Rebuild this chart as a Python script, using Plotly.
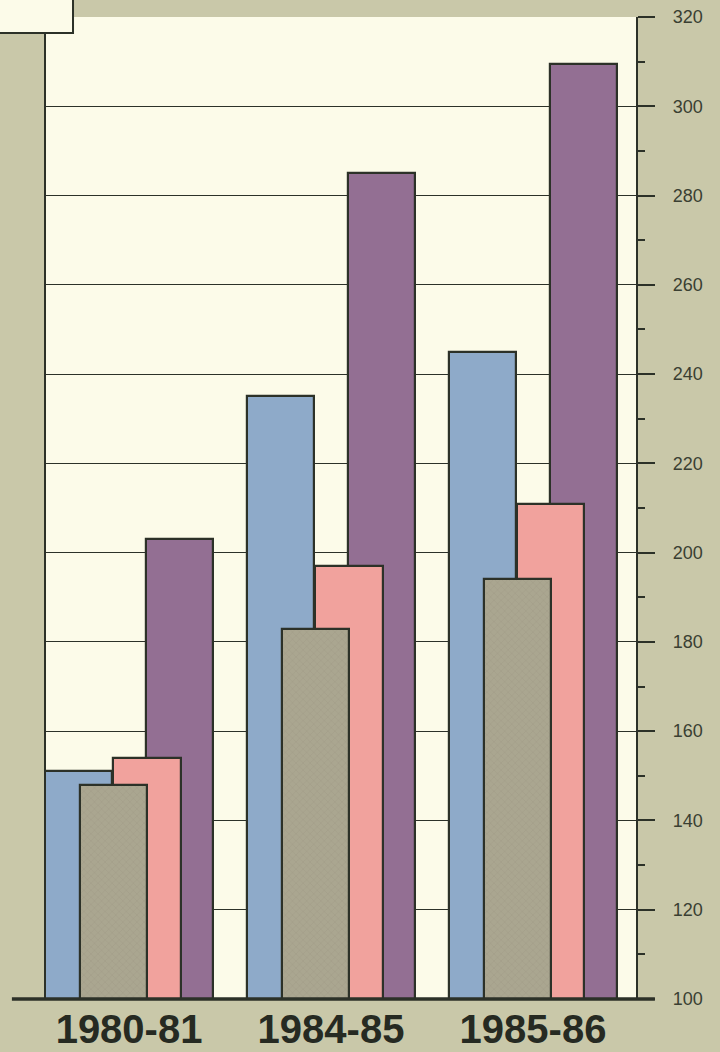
import plotly.graph_objects as go

# ---- data ----
categories = ["1980-81", "1984-85", "1985-86"]
blue_values = [151, 235, 245]
gray_values = [148, 183, 194]
pink_values = [154, 197, 211]
purple_values = [203, 285, 309.5]
y_tick_values = [100, 120, 140, 160, 180, 200, 220, 240, 260, 280, 300, 320]
y_tick_labels = [str(v) for v in y_tick_values]

# ---- styles ----
INK = "#2c3128"
PAPER = "#c9c8a9"
PLOT_BG = "#fcfbe9"
BAR_W = 0.332

# draw order: back to front
series = [
    ("Purple", purple_values, "#936f93", 0.082, None),
    ("Blue", blue_values, "#8eaac9", -0.416, None),
    ("Pink", pink_values, "#f1a29d", -0.077, None),
    ("Gray", gray_values, "#aaa690", -0.243,
     dict(shape="x", size=5, solidity=0.12, fgcolor="#8d8a76", fgopacity=0.6)),
]

fig = go.Figure()
for name, vals, color, off, pattern in series:
    marker = dict(color=color, line=dict(color=INK, width=2.2))
    if pattern:
        marker["pattern"] = pattern
    fig.add_trace(go.Bar(
        x=categories, y=vals, name=name,
        width=BAR_W, offset=off,
        marker=marker,
        showlegend=False, hoverinfo="x+y",
    ))

fig.update_layout(
    width=720, height=1052,
    margin=dict(l=45, r=84, t=17, b=53, pad=0, autoexpand=False),
    paper_bgcolor=PAPER, plot_bgcolor=PLOT_BG,
    barmode="overlay", bargap=0,
    showlegend=False,
    xaxis=dict(
        type="category", range=[-0.416, 2.51], automargin=False,
        showgrid=False, zeroline=False, showline=False, ticks="",
        tickfont=dict(family="Liberation Sans, Arial, sans-serif", size=40,
                      color="#262a22", weight="bold"),
        ticklabelstandoff=3,
    ),
    yaxis=dict(
        side="right", range=[100, 320], automargin=False,
        tickmode="array", tickvals=y_tick_values, ticktext=y_tick_labels,
        showgrid=True, gridcolor=INK, gridwidth=1.4,
        zeroline=False,
        showline=True, linecolor=INK, linewidth=2.2,
        ticks="outside", ticklen=17, tickwidth=2, tickcolor=INK,
        minor=dict(dtick=10, ticks="outside", ticklen=7, tickwidth=2, tickcolor=INK, showgrid=False),
        tickfont=dict(family="Liberation Sans, Arial, sans-serif", size=18, color="#3a3f32"),
        ticklabelstandoff=14,
    ),
    shapes=[
        # thick baseline extending past the plot
        dict(type="line", xref="paper", yref="paper", x0=-0.056, x1=1.032, y0=0, y1=0,
             line=dict(color=INK, width=3.5), layer="above"),
        # left edge of the chart panel
        dict(type="line", xref="paper", yref="paper", x0=0, x1=0, y0=0, y1=0.984,
             line=dict(color=INK, width=2), layer="above"),
        # cropped legend box at the top-left
        dict(type="rect", xref="paper", yref="paper", x0=-0.09, x1=0.0474, y0=0.9837, y1=1.03,
             fillcolor=PLOT_BG, line=dict(color=INK, width=2), layer="above"),
    ],
)

fig.write_html("out.html", post_script="document.body.style.margin='0';",
               config={"displayModeBar": False})
